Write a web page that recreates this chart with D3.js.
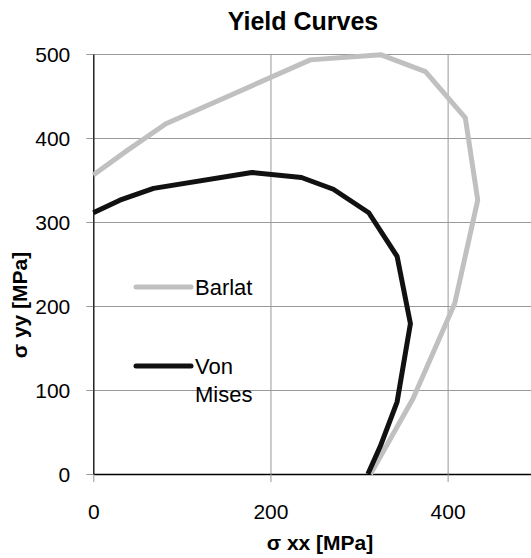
<!DOCTYPE html>
<html>
<head>
<meta charset="utf-8">
<script src="https://cdn.jsdelivr.net/npm/d3@7/dist/d3.min.js"></script>
<style>
  body { margin:0; background:#fff; font-family:"Liberation Sans", Arial, sans-serif; }
  svg { display:block; }
  .grid line { stroke:#d4d4d4; stroke-width:1px; }
  .grid path { display:none; }
  .tick text { fill:#000; font-size:21px; }
  .tick line { stroke:#999; }
</style>
</head>
<body>
<div id="chart"></div>
<script>
// sigma xx / sigma yy pairs [MPa]
const barlatXX = [0, 38, 82, 245, 325, 375, 420, 434, 408, 361, 313];
const barlatYY = [356, 385, 417, 493, 499, 479, 424, 326, 203, 90, 0];
const misesXX = [0, 30, 68, 179, 235, 271, 311, 343, 358, 343, 324, 310];
const misesYY = [311, 326, 340, 359, 353, 339, 311, 259, 179, 86, 33, 0];
const xTicks = [0, 200, 400];
const yTicks = [0, 100, 200, 300, 400, 500];
const seriesNames = ["Barlat", "Von Mises"];
const seriesColors = ["#c0c0c0", "#111111"];

const width = 531, height = 558;
const svg = d3.select("#chart").append("svg").attr("width", width).attr("height", height);

const x = d3.scaleLinear().domain([0, 500]).range([93.3, 536.2]);
const y = d3.scaleLinear().domain([0, 500]).range([474, 54]);

// gridlines
svg.append("g").attr("class", "grid")
  .attr("transform", `translate(${x(0)},0)`)
  .call(d3.axisRight(y).tickValues(yTicks.filter(d => d > 0)).tickSize(width).tickFormat(""));
svg.append("g").attr("class", "grid")
  .attr("transform", `translate(0,${y(0)})`)
  .call(d3.axisTop(x).tickValues(xTicks.filter(d => d > 0)).tickSize(y(0) - y(500)).tickFormat(""));

// axes
const xAxis = svg.append("g")
  .attr("transform", `translate(0,${y(0)})`)
  .call(d3.axisBottom(x).tickValues(xTicks).tickSize(8).tickPadding(22).tickSizeOuter(0));
xAxis.select(".domain").attr("stroke", "#000").attr("stroke-width", 1.3);

const yAxis = svg.append("g")
  .attr("transform", `translate(${x(0)},0)`)
  .call(d3.axisLeft(y).tickValues(yTicks).tickSize(7).tickPadding(16).tickSizeOuter(0));
yAxis.select(".domain").attr("stroke", "#000").attr("stroke-width", 1.3);
yAxis.selectAll(".tick text").attr("dy", "0.36em");

// curves
const line = d3.line().x(d => x(d[0])).y(d => y(d[1]));
const series = [
  d3.zip(barlatXX, barlatYY),
  d3.zip(misesXX, misesYY)
];
series.forEach((pts, i) => {
  svg.append("path")
    .datum(pts)
    .attr("d", line)
    .attr("fill", "none")
    .attr("stroke", seriesColors[i])
    .attr("stroke-width", 5)
    .attr("stroke-linejoin", "round");
});

// title
svg.append("text")
  .attr("x", 303).attr("y", 30)
  .attr("text-anchor", "middle")
  .style("font-size", "25px").style("font-weight", "bold")
  .text("Yield Curves");

svg.append("text")
  .attr("x", 320).attr("y", 550)
  .attr("text-anchor", "middle")
  .style("font-size", "21px").style("font-weight", "bold")
  .text("σ xx [MPa]");

svg.append("text")
  .attr("transform", "translate(27,305) rotate(-90)")
  .attr("text-anchor", "middle")
  .style("font-size", "21px").style("font-weight", "bold")
  .text("σ yy [MPa]");

// legend
const legend = svg.append("g");
const legendRows = [
  { y: 287, lines: ["Barlat"] },
  { y: 366, lines: ["Von", "Mises"] }
];
legendRows.forEach((r, i) => {
  legend.append("line")
    .attr("x1", 136).attr("x2", 191)
    .attr("y1", r.y).attr("y2", r.y)
    .attr("stroke", seriesColors[i])
    .attr("stroke-width", 5)
    .attr("stroke-linecap", "round");
  const t = legend.append("text")
    .attr("x", 195).attr("y", r.y + 8)
    .style("font-size", "22px");
  r.lines.forEach((s, j) => {
    t.append("tspan").attr("x", 195).attr("dy", j ? 28 : 0).text(s);
  });
});
</script>
</body>
</html>
